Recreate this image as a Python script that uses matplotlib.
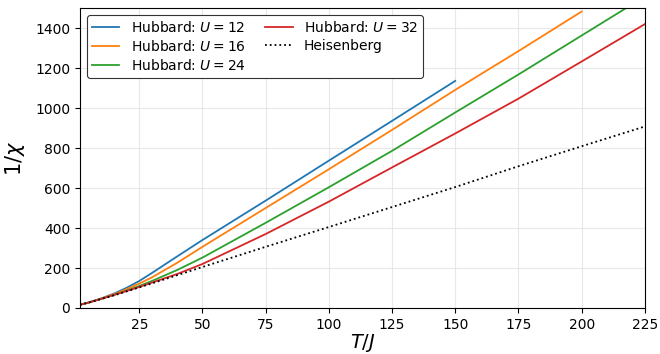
import numpy as np
import matplotlib
matplotlib.use("Agg")
import matplotlib.pyplot as plt

# temperatures (in units of J) and inverse susceptibility for each model
T = [1.5, 5, 10, 15, 20, 25, 30, 40, 50, 75, 100, 125, 150, 175, 200, 225]

inv_chi_U12 = [16, 28, 48, 72, 101, 135, 175, 258, 340, 537, 737, 936, 1136]
inv_chi_U16 = [16, 27, 47, 69, 94, 122, 153, 226, 306, 500, 694, 891, 1091, 1285, 1483]
inv_chi_U24 = [16, 27, 46, 66, 87, 110, 135, 190, 252, 426, 604, 786, 978, 1168, 1363, 1558]
inv_chi_U32 = [16, 27, 46, 65, 85, 105, 127, 170, 220, 370, 532, 703, 873, 1047, 1233, 1420]
inv_chi_heis = [16, 27, 45, 63, 83, 103, 123, 164, 205, 306, 405, 505, 605, 709, 809, 908]

fig = plt.figure(figsize=(6.6, 3.54), dpi=100)
ax = fig.add_axes([0.121, 0.130, 0.856, 0.847])

lw = 1.3
ax.plot(T[:len(inv_chi_U12)], inv_chi_U12, color="tab:blue", lw=lw, label=r"Hubbard: $U=12$")
ax.plot(T[:len(inv_chi_U16)], inv_chi_U16, color="tab:orange", lw=lw, label=r"Hubbard: $U=16$")
ax.plot(T, inv_chi_U24, color="tab:green", lw=lw, label=r"Hubbard: $U=24$")
ax.plot(T, inv_chi_U32, color="tab:red", lw=lw, label=r"Hubbard: $U=32$")
ax.plot(T, inv_chi_heis, color="black", ls=":", lw=lw, label="Heisenberg")

ax.set_xlim(1.5, 225)
ax.set_ylim(0, 1500)
ax.set_xticks([25, 50, 75, 100, 125, 150, 175, 200, 225])
ax.set_yticks([0, 200, 400, 600, 800, 1000, 1200, 1400])
ax.tick_params(labelsize=10)
ax.grid(True, color="0.85", alpha=0.6, lw=0.8)

ax.set_xlabel(r"$T/J$", fontsize=14, labelpad=0)
ax.set_ylabel(r"$1/\chi$", fontsize=15, labelpad=6)

leg = ax.legend(loc="upper left", ncol=2, fontsize=10, framealpha=1.0,
                edgecolor="0.2", handlelength=2.0, columnspacing=1.4,
                labelspacing=0.3, borderpad=0.35)
leg.get_frame().set_linewidth(0.8)

fig.savefig("out.png", dpi=100)
